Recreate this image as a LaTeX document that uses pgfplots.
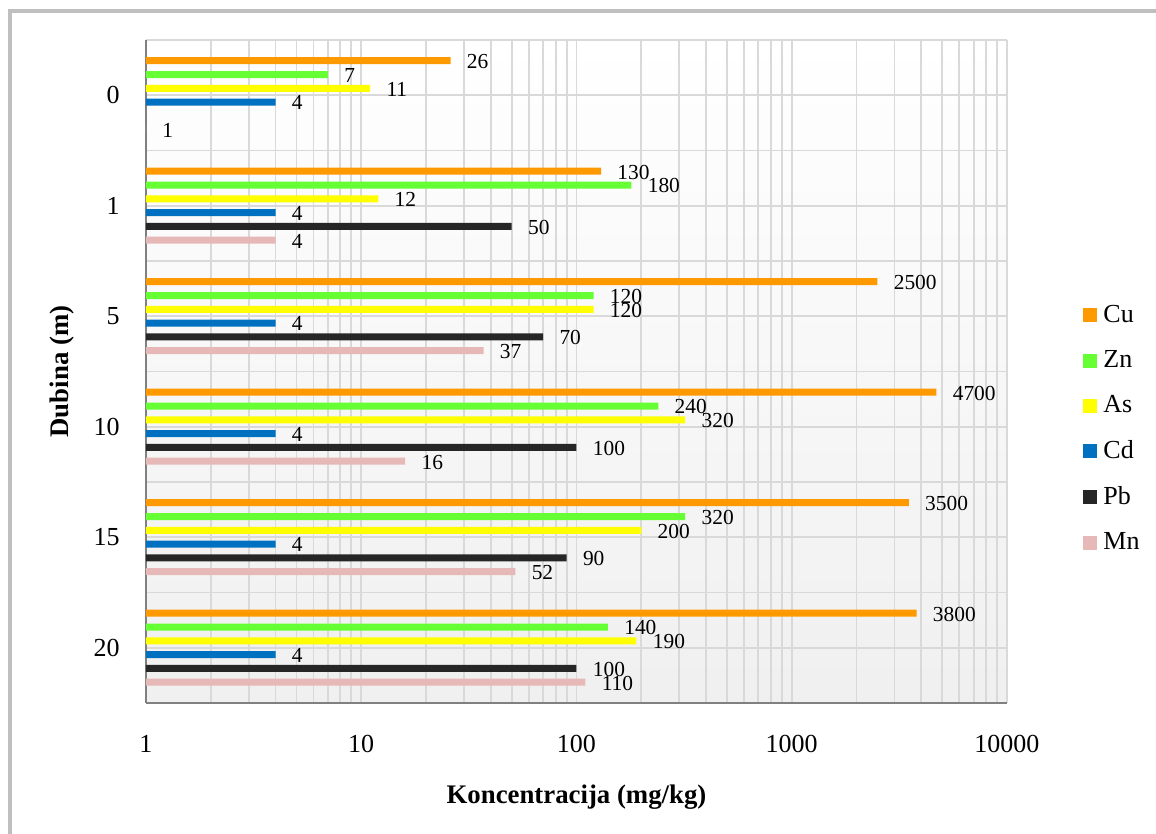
\documentclass[border=0pt]{standalone}
\usepackage{fontspec}
\setmainfont{Liberation Serif}
\usepackage{pgfplots}
\pgfplotsset{compat=1.18}
\definecolor{cCu}{HTML}{FF9900}
\definecolor{cZn}{HTML}{66FF33}
\definecolor{cAs}{HTML}{FFFF00}
\definecolor{cCd}{HTML}{0070C0}
\definecolor{cPb}{HTML}{262626}
\definecolor{cMn}{HTML}{E6B8B7}
\definecolor{gridc}{HTML}{D9D9D9}
\begin{document}
\begin{tikzpicture}
\begin{axis}[
  scale only axis, width=430.5pt, height=331.5pt,
  xmode=log, xmin=1, xmax=10000,
  ymin=-0.5, ymax=5.5,
  xbar, bar width=3.5pt,
  xtick={1,10,100,1000,10000}, xticklabels={1,10,100,1000,10000},
  minor xtick={2,3,4,5,6,7,8,9,20,30,40,50,60,70,80,90,200,300,400,500,600,700,800,900,2000,3000,4000,5000,6000,7000,8000,9000},
  ytick={0,1,2,3,4,5}, yticklabels={20,15,10,5,1,0},
  minor ytick={-0.5,0.5,1.5,2.5,3.5,4.5,5.5},
  xmajorgrids, xminorgrids, ymajorgrids, yminorgrids,
  grid style={gridc, line width=0.9pt},
  minor grid style={gridc, line width=0.9pt},
  major tick length=0pt, minor tick length=0pt,
  axis x line*=bottom, axis y line*=left,
  axis line style={black!50, line width=1pt, -},
  axis background/.style={top color=white, middle color=black!1, bottom color=black!6},
  /pgf/number format/.cd, fixed, precision=0, 1000 sep={}, assume math mode=true, /pgfplots/.cd,
  tick label style={font=\fontsize{13}{15}\selectfont},
  xticklabel style={anchor=center, yshift=-20.5pt},
  yticklabel style={anchor=east, inner sep=0pt, xshift=-13pt},
  xlabel={Koncentracija (mg/kg)},
  ylabel={Dubina (m)},
  label style={font=\fontsize{13.4}{15}\selectfont\bfseries},
  xlabel style={at={(rel axis cs:0.5,-0.1418)}, anchor=center},
  ylabel style={at={(rel axis cs:-0.0975,0.5)}, anchor=center},
  point meta=rawx,
  nodes near coords,
  nodes near coords style={anchor=west, inner sep=0pt, xshift=8pt, yshift=-0.4pt, font=\fontsize{10.7}{12}\selectfont, text=black},
  legend image code/.code={\fill[#1,draw=none] (0pt,-3.5pt) rectangle (7pt,3.5pt);},
  legend style={draw=none, fill=none, at={(rel axis cs:1.0883,0.605)}, anchor=north west,
    font=\fontsize{13}{15}\selectfont, row sep=9.5pt, inner sep=0pt,
    nodes={inner sep=1.5pt},
    /tikz/every odd column/.append style={column sep=1.5pt}},
  legend cell align=left,
]
\addplot[fill=cCu, draw=none, bar shift=17.25pt] coordinates {(26,5) (130,4) (2500,3) (4700,2) (3500,1) (3800,0)};
\addplot[fill=cZn, draw=none, bar shift=10.35pt] coordinates {(7,5) (180,4) (120,3) (240,2) (320,1) (140,0)};
\addplot[fill=cAs, draw=none, bar shift=3.45pt] coordinates {(11,5) (12,4) (120,3) (320,2) (200,1) (190,0)};
\addplot[fill=cCd, draw=none, bar shift=-3.45pt] coordinates {(4,5) (4,4) (4,3) (4,2) (4,1) (4,0)};
\addplot[fill=cPb, draw=none, bar shift=-10.35pt] coordinates {(50,4) (70,3) (100,2) (90,1) (100,0)};
\addplot[fill=cMn, draw=none, bar shift=-17.25pt] coordinates {(1,5) (4,4) (37,3) (16,2) (52,1) (110,0)};
\legend{Cu,Zn,As,Cd,Pb,Mn}
\end{axis}
\draw[black!25, line width=2pt] (-68pt,-80pt) -- (-68pt,346pt) -- (520pt,346pt);
\pgfresetboundingbox
\useasboundingbox (-73pt,-65.5pt) rectangle (505pt,351.5pt);
\end{tikzpicture}
\end{document}
